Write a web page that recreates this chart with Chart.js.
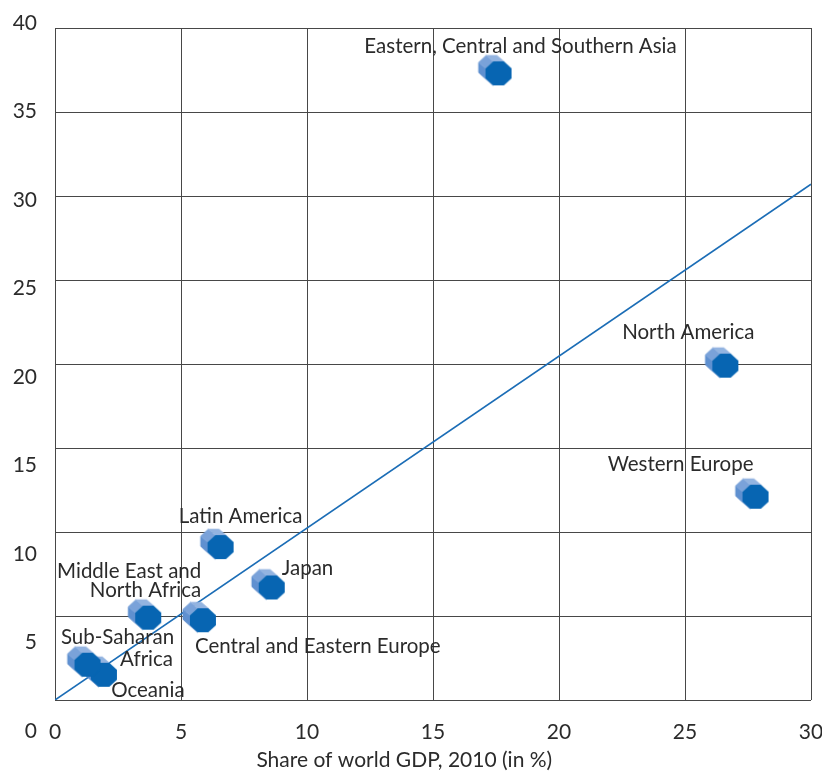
<!DOCTYPE html>
<html>
<head>
<meta charset="utf-8">
<script src="https://cdn.jsdelivr.net/npm/chart.js@4/dist/chart.umd.min.js"></script>
<style>
  html, body { margin: 0; padding: 0; background: #ffffff; }
  #wrap { width: 822px; height: 773px; }
</style>
</head>
<body>
<div id="wrap"><canvas id="chart" width="822" height="773"></canvas></div>
<script>
// Regions, each name split into the lines it is printed on
const regionLines = [
  ['Eastern, Central and Southern Asia'],
  ['North America'],
  ['Western Europe'],
  ['Latin America'],
  ['Japan'],
  ['Middle East and', 'North Africa'],
  ['Central and Eastern Europe'],
  ['Oceania'],
  ['Sub-Saharan', 'Africa']
];
// Share of world GDP, 2010 (in %)
const gdpShare = [17.6, 26.6, 27.8, 6.57, 8.6, 3.7, 5.87, 1.94, 1.29];
// Vertical-axis share (in %)
const yShare = [37.3, 19.9, 12.1, 9.1, 6.7, 4.9, 4.75, 1.5, 2.1];

// Reference line through the origin
const trendX = [0, 30];
const trendY = [0, 30.7];

// Tick labels and axis title
const xTicks = [0, 5, 10, 15, 20, 25, 30];
const yTicks = [0, 5, 10, 15, 20, 25, 30, 35, 40];
const xTitle = 'Share of world GDP, 2010 (in %)';

// Where each label line sits relative to its marker (pixels)
const labelPlacement = [
  [{ dx: 22, dy: -27, align: 'center' }],
  [{ dx: -37, dy: -33, align: 'center' }],
  [{ dx: -75, dy: -32, align: 'center' }],
  [{ dx: 20, dy: -31, align: 'center' }],
  [{ dx: 10, dy: -19, align: 'left' }],
  [{ dx: 53, dy: -46, align: 'right' }, { dx: 53, dy: -27, align: 'right' }],
  [{ dx: -8, dy: 26, align: 'left' }],
  [{ dx: 44, dy: 16, align: 'center' }],
  [{ dx: 30, dy: -27, align: 'center' }, { dx: 59, dy: -5, align: 'center' }]
];

const FONT = 'Lato, "Liberation Sans", sans-serif';
const TEXT = '#2b2b2b';
const GRID = '#474747';

// Extruded octagon marker: pale sides trailing up-left, dark blue front face
function makeMarker() {
  const W = 48, H = 44;
  const c = document.createElement('canvas');
  c.width = W; c.height = H;
  const g = c.getContext('2d');
  const fx = W / 2, fy = H / 2;          // front face centre = marker anchor
  const bx = fx - 7, by = fy - 6;        // far face centre
  const rx = 13 / Math.cos(Math.PI / 8);
  const ry = 12 / Math.cos(Math.PI / 8);
  const verts = (cx, cy) => {
    const v = [];
    for (let k = 0; k < 8; k++) {
      const a = Math.PI / 8 + k * Math.PI / 4;
      v.push([cx + rx * Math.cos(a), cy + ry * Math.sin(a)]);
    }
    return v;
  };
  const F = verts(fx, fy), B = verts(bx, by);
  // side faces that face up-left
  for (let k = 0; k < 8; k++) {
    const j = (k + 1) % 8;
    const am = Math.PI / 8 + (k + 0.5) * Math.PI / 4;
    const nx = Math.cos(am), ny = Math.sin(am);
    if (nx * -7 + ny * -6 <= 0) continue;
    let col;
    if (ny < -0.9) col = '#93b4e0';
    else if (nx < -0.9) col = '#5f90d0';
    else if (nx < 0 && ny < 0) col = '#7aa2d9';
    else if (ny < 0) col = '#8aaedd';
    else col = '#5585c8';
    g.beginPath();
    g.moveTo(B[k][0], B[k][1]);
    g.lineTo(B[j][0], B[j][1]);
    g.lineTo(F[j][0], F[j][1]);
    g.lineTo(F[k][0], F[k][1]);
    g.closePath();
    g.fillStyle = col;
    g.strokeStyle = col;
    g.lineWidth = 0.6;
    g.fill();
    g.stroke();
  }
  g.beginPath();
  F.forEach((p, i) => i ? g.lineTo(p[0], p[1]) : g.moveTo(p[0], p[1]));
  g.closePath();
  g.fillStyle = '#0765b2';
  g.fill();
  return c;
}
const marker = makeMarker();

// Region names beside their markers, and the horizontal axis title
const regionLabels = {
  id: 'regionLabels',
  afterDatasetsDraw(chart) {
    const meta = chart.getDatasetMeta(1);
    const ctx = chart.ctx;
    ctx.save();
    ctx.font = '20.5px ' + FONT;
    ctx.fillStyle = TEXT;
    ctx.textBaseline = 'middle';
    meta.data.forEach((pt, i) => {
      regionLines[i].forEach((line, l) => {
        const p = labelPlacement[i][l];
        ctx.textAlign = p.align;
        ctx.fillText(line, pt.x + p.dx, pt.y + p.dy);
      });
    });
    const xs = chart.scales.x;
    ctx.font = '21px ' + FONT;
    ctx.textAlign = 'center';
    ctx.fillText(xTitle, xs.left + xs.width * 0.462, xs.bottom - 13);
    ctx.restore();
  }
};

new Chart(document.getElementById('chart'), {
  data: {
    datasets: [
      {
        type: 'line',
        data: trendX.map((x, i) => ({ x, y: trendY[i] })),
        borderColor: '#1b6db6',
        borderWidth: 1.6,
        pointRadius: 0,
        fill: false,
        order: 2
      },
      {
        type: 'scatter',
        data: gdpShare.map((x, i) => ({ x, y: yShare[i] })),
        pointStyle: marker,
        pointRadius: 14,
        order: 1
      }
    ]
  },
  options: {
    responsive: false,
    animation: false,
    devicePixelRatio: 1,
    layout: { autoPadding: false, padding: { left: 0, right: 11, top: 28, bottom: 0 } },
    plugins: { legend: { display: false }, tooltip: { enabled: false } },
    scales: {
      x: {
        type: 'linear',
        position: 'bottom',
        min: 0, max: 30,
        afterBuildTicks: s => { s.ticks = xTicks.map(v => ({ value: v })); },
        grid: { color: GRID, lineWidth: 1, drawTicks: false },
        border: { display: false },
        ticks: { font: { family: FONT, size: 21 }, color: TEXT, padding: 20, autoSkip: false, maxRotation: 0 },
        afterFit: s => { s.height = 73; s.paddingLeft = 0; s.paddingRight = 0; }
      },
      y: {
        type: 'linear',
        position: 'left',
        min: 0, max: 40,
        afterBuildTicks: s => { s.ticks = yTicks.map(v => ({ value: v })); },
        grid: { color: GRID, lineWidth: 1, drawTicks: false },
        border: { display: false },
        ticks: { display: false },
        afterFit: s => { s.width = 0; s.paddingTop = 0; s.paddingBottom = 0; }
      },
      // tick labels sit on a slightly stretched scale that runs below the grid
      yLabels: {
        type: 'linear',
        position: 'left',
        bounds: 'data',
        min: 1.75, max: 39.72,
        afterBuildTicks: s => { s.ticks = yTicks.map(v => ({ value: v })); },
        grid: { display: false, drawTicks: false },
        border: { display: false },
        ticks: { font: { family: FONT, size: 21 }, color: TEXT, padding: 18, autoSkip: false },
        afterFit: s => { s.width = 55; s.paddingTop = 0; s.paddingBottom = 0; }
      }
    }
  },
  plugins: [regionLabels]
});
</script>
</body>
</html>
